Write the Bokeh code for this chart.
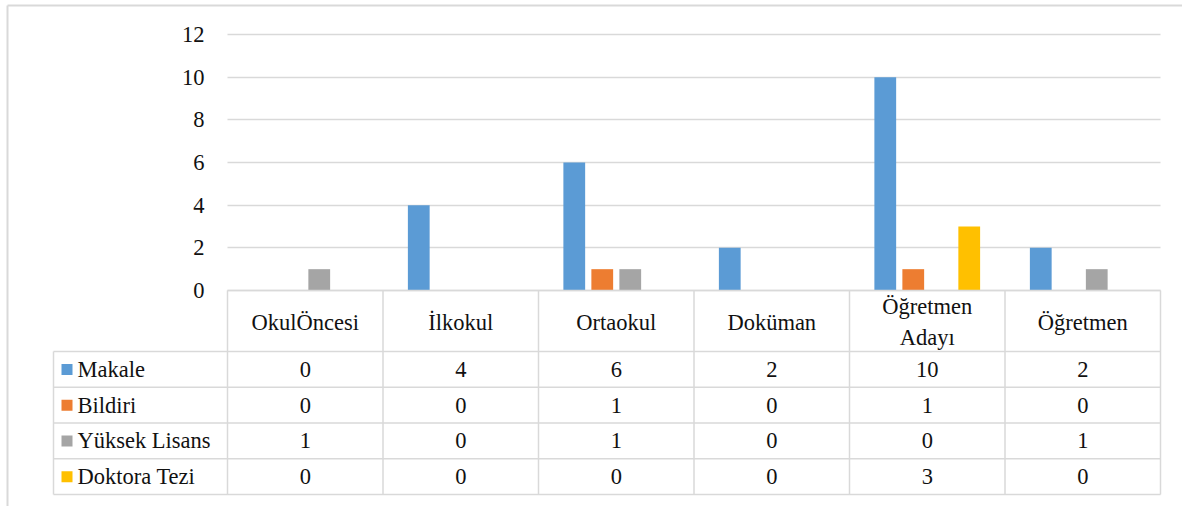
from bokeh.plotting import figure
from bokeh.models import Range1d, FixedTicker, ColumnDataSource, Grid
from bokeh.core.properties import value
from bokeh.embed import file_html
from bokeh.resources import INLINE

# ---- data ----
categories = ["OkulÖncesi", "İlkokul", "Ortaokul", "Doküman", "Öğretmen\nAdayı", "Öğretmen"]
series = ["Makale", "Bildiri", "Yüksek Lisans", "Doktora Tezi"]
makale = [0, 4, 6, 2, 10, 2]
bildiri = [0, 0, 1, 0, 1, 0]
yuksek_lisans = [1, 0, 1, 0, 0, 1]
doktora_tezi = [0, 0, 0, 0, 3, 0]
y_ticks = [0, 2, 4, 6, 8, 10, 12]

values = [makale, bildiri, yuksek_lisans, doktora_tezi]
colors = ["#5B9BD5", "#ED7D31", "#A5A5A5", "#FFC000"]

# ---- layout constants (pixels) ----
W, H = 1182, 506
X0, X1 = 227, 1160
Y0, Y12 = 290, 34
CW = (X1 - X0) / 6.0
U = (Y0 - Y12) / 12.0


def dx(px):
    return (px - X0) / CW


def dy(py):
    return (Y0 - py) / U


FONT = "Liberation Serif"
FS = "22.5px"
TXT = "#111111"
LINE = "#d9d9d9"

p = figure(width=W, height=H, x_range=Range1d(dx(0), dx(W)), y_range=Range1d(dy(H), dy(0)),
           min_border=0, output_backend="svg", toolbar_location=None)
p.outline_line_color = None
p.background_fill_color = "white"
p.border_fill_color = "white"
p.xaxis.visible = False
p.xgrid.visible = False

# y axis at the left edge of the plot area
yax = p.yaxis[0]
yax.fixed_location = 0
yax.ticker = FixedTicker(ticks=y_ticks)
yax.axis_line_color = None
yax.major_tick_line_color = None
yax.minor_tick_line_color = None
yax.major_label_standoff = 17
yax.major_label_text_font = FONT
yax.major_label_text_font_size = FS
yax.major_label_text_color = TXT

g = p.ygrid[0]
g.ticker = FixedTicker(ticks=y_ticks)
g.grid_line_color = LINE
g.grid_line_width = 1.5
g.bounds = (0, 12)
ncat = len(categories)
if "cross_bounds" in Grid.properties():
    g.cross_bounds = (0, ncat)
else:
    g.visible = False
    p.segment(x0=[0] * len(y_ticks), x1=[ncat] * len(y_ticks), y0=y_ticks, y1=y_ticks,
              line_color=LINE, line_width=1.5)

# ---- bars ----
offsets = [-0.27, -0.09, 0.09, 0.27]
for vals, col, off in zip(values, colors, offsets):
    src = ColumnDataSource(dict(x=[i + 0.5 + off for i in range(ncat)], top=vals))
    p.vbar(x="x", width=0.14, top="top", bottom=0, source=src, fill_color=col, line_color=None)

# ---- data table ----
HDR_B = 351
ROW_H = (494 - HDR_B) / 4.0
LEG_L = 53
row_lines = [HDR_B + ROW_H * k for k in range(5)]
# horizontal lines
p.segment(x0=[0], x1=[ncat], y0=[0], y1=[0], line_color=LINE, line_width=1.5)
p.segment(x0=[dx(LEG_L)] * 5, x1=[ncat] * 5, y0=[dy(v) for v in row_lines],
          y1=[dy(v) for v in row_lines], line_color=LINE, line_width=1.5)
# vertical lines
p.segment(x0=list(range(ncat + 1)), x1=list(range(ncat + 1)), y0=[0] * (ncat + 1),
          y1=[dy(row_lines[-1])] * (ncat + 1), line_color=LINE, line_width=1.5)
p.segment(x0=[dx(LEG_L)], x1=[dx(LEG_L)], y0=[dy(HDR_B)], y1=[dy(row_lines[-1])],
          line_color=LINE, line_width=1.5)

# header labels
p.text(x=[i + 0.5 for i in range(ncat)], y=[dy((Y0 + HDR_B) / 2.0 + 1)] * ncat, text=categories,
       text_font=value(FONT), text_font_size=FS, text_color=TXT, text_align="center",
       text_baseline="middle", text_line_height=1.25)

# cell values and legend keys
for r, (name, vals, col) in enumerate(zip(series, values, colors)):
    cy = dy(HDR_B + ROW_H * (r + 0.5))
    p.text(x=[i + 0.5 for i in range(ncat)], y=[cy] * ncat, text=[str(v) for v in vals],
           text_font=value(FONT), text_font_size=FS, text_color=TXT, text_align="center",
           text_baseline="middle")
    p.scatter(x=[dx(66.5)], y=[cy], marker="square", size=11, fill_color=col, line_color=None)
    p.text(x=[dx(77)], y=[cy], text=[name], text_font=value(FONT), text_font_size=FS,
           text_color=TXT, text_align="left", text_baseline="middle")

# outer frame lines
p.segment(x0=[dx(7), dx(7)], x1=[dx(W), dx(7)], y0=[dy(5), dy(5)], y1=[dy(5), dy(H)],
          line_color="#d9d9d9", line_width=2)

open("out.html", "w").write(file_html(p, INLINE))
